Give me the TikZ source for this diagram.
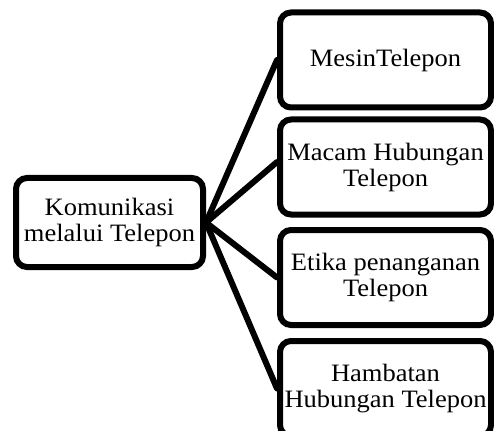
\documentclass[tikz,border=0pt]{standalone}
\usepackage{fontspec}
\setmainfont[FakeStretch=1.06]{Liberation Serif}
\begin{document}
\begin{tikzpicture}[x=1pt,y=-1pt,
  box/.style={draw=black, line width=6pt, rounded corners=11pt, fill=white,
    align=center, inner sep=2pt,
    font=\fontsize{25}{26}\selectfont},
  leftbox/.style={box, minimum width=187pt, minimum height=89pt},
  rightbox/.style={box, minimum width=211pt, minimum height=95pt},
  link/.style={line width=6pt, line cap=round, line join=round}]
\clip (0,0) rectangle (494,430);
\fill[white] (0,0) rectangle (494,430);
\node[leftbox] (root) at (109.5,222.5) {Komunikasi\\melalui Telepon};
\node[rightbox] (b1) at (385.5,60) {MesinTelepon};
\node[rightbox] (b2) at (385.5,167) {Macam Hubungan\\Telepon};
\node[rightbox] (b3) at (385.5,277.5) {Etika penanganan\\Telepon};
\node[rightbox] (b4) at (385.5,388.5) {Hambatan\\Hubungan Telepon};
\coordinate (hub) at (root.east);
\draw[link] (hub) -- (b1.west);
\draw[link] (hub) -- ([yshift=5pt]b2.west);
\draw[link] (hub) -- (b3.west);
\draw[link] (hub) -- (b4.west);
\end{tikzpicture}
\end{document}
